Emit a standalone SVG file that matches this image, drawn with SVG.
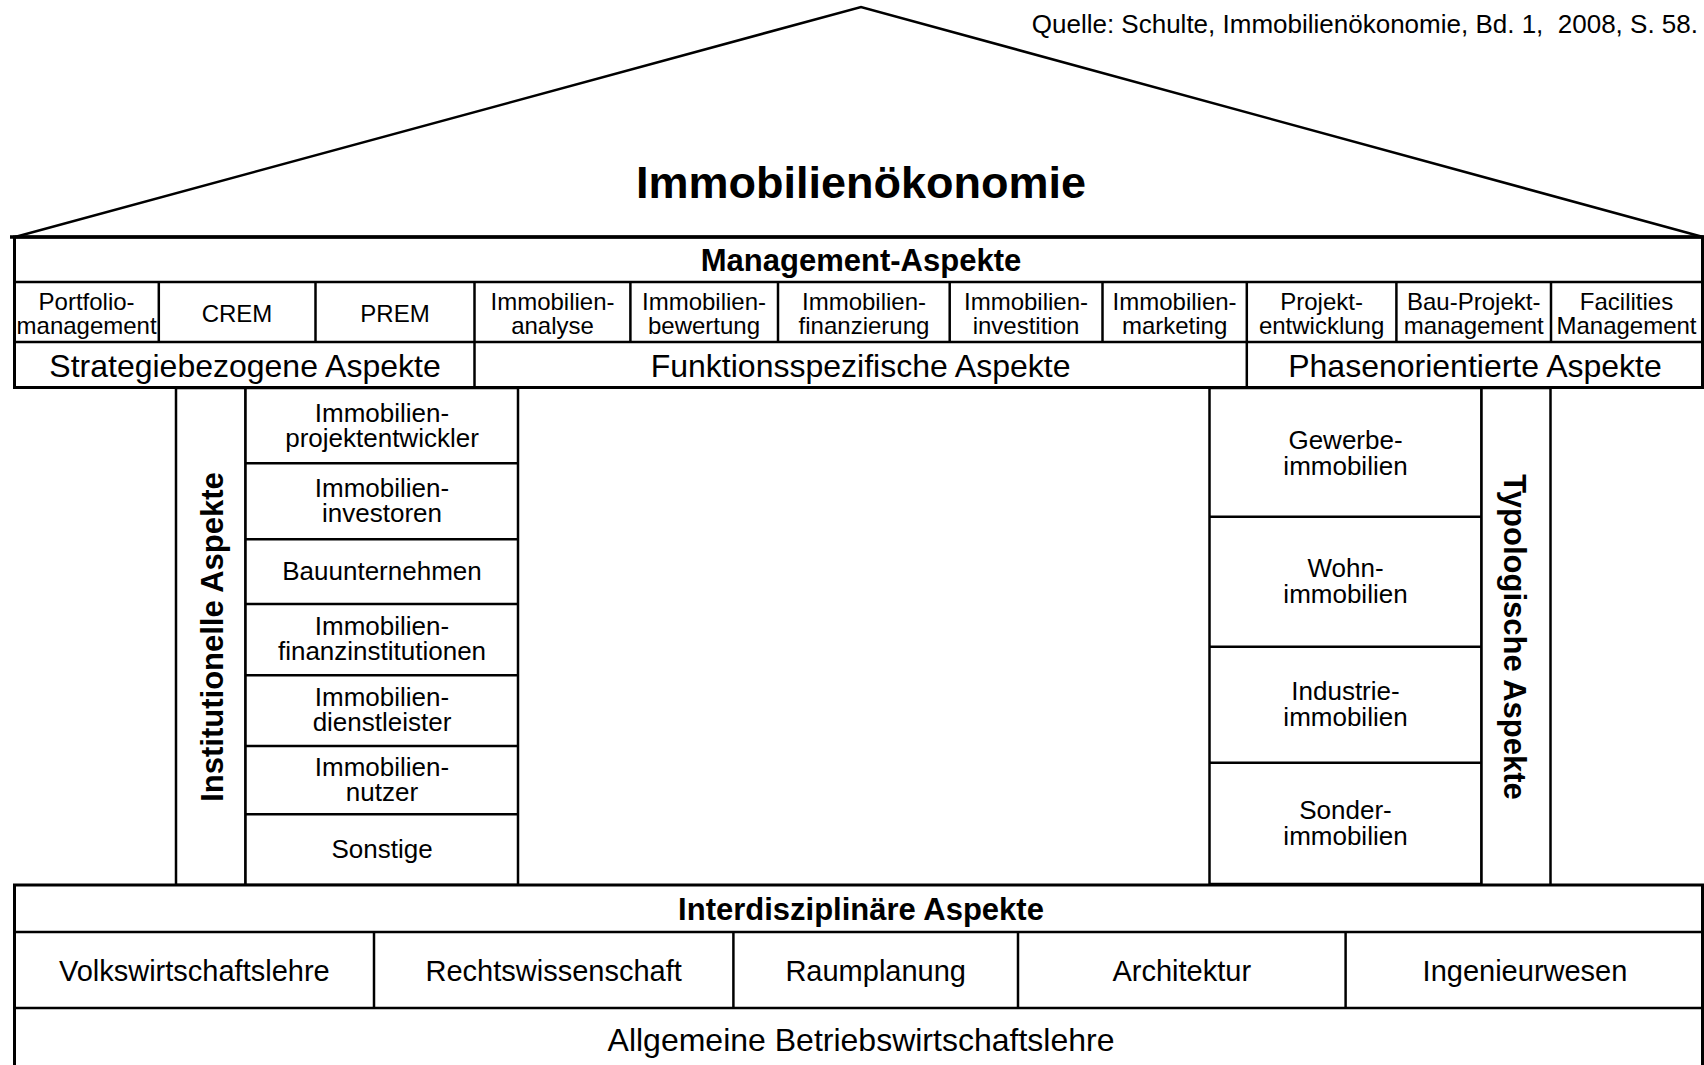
<svg xmlns="http://www.w3.org/2000/svg" width="1704" height="1065" viewBox="0 0 1704 1065">
<style>
  .ln { stroke: #000; stroke-width: 2.5; fill: none; }
  .bx { stroke: #000; stroke-width: 2.5; fill: #fff; }
  text { font-family: "Liberation Sans", Arial, Helvetica, sans-serif; fill: #000; text-anchor: middle; }
  .c24 { font-size: 24px; }
  .c26 { font-size: 26px; }
  .c29 { font-size: 29px; }
  .c32 { font-size: 32px; }
  .b31 { font-size: 31px; font-weight: bold; }
  .title { font-size: 45px; font-weight: bold; }
</style>
<rect x="0" y="0" width="1704" height="1065" fill="#fff"/>

<g id="roof">
  <polyline class="ln" points="15,237 861,7 1703,237"/>
  <text class="title" x="861" y="198">Immobilienökonomie</text>
  <text class="c26" x="1698" y="33" style="text-anchor:end">Quelle: Schulte, Immobilienökonomie, Bd. 1, &#160;2008, S. 58.</text>
</g>

<g id="management">
  <rect class="bx" x="14.5" y="237" width="1688" height="150.5" style="stroke-width:3"/>
  <line class="ln" x1="10" y1="237" x2="1704" y2="237" style="stroke-width:3.5"/>
  <line class="ln" x1="14.5" y1="282" x2="1702" y2="282"/>
  <line class="ln" x1="14.5" y1="342" x2="1702" y2="342"/>
  <text class="b31" x="861" y="271">Management-Aspekte</text>
</g>

<g id="cells">
  <line class="ln" x1="158.8" y1="282" x2="158.8" y2="342"/>
  <line class="ln" x1="315.5" y1="282" x2="315.5" y2="342"/>
  <line class="ln" x1="474.5" y1="282" x2="474.5" y2="387.5"/>
  <line class="ln" x1="630.4" y1="282" x2="630.4" y2="342"/>
  <line class="ln" x1="778" y1="282" x2="778" y2="342"/>
  <line class="ln" x1="949.7" y1="282" x2="949.7" y2="342"/>
  <line class="ln" x1="1102.5" y1="282" x2="1102.5" y2="342"/>
  <line class="ln" x1="1246.8" y1="282" x2="1246.8" y2="387.5"/>
  <line class="ln" x1="1396.4" y1="282" x2="1396.4" y2="342"/>
  <line class="ln" x1="1551" y1="282" x2="1551" y2="342"/>
  <g id="cell-portfolio"><text class="c24" x="86.6" y="309.5">Portfolio-</text><text class="c24" x="86.6" y="333.5">management</text></g>
  <g id="cell-crem"><text class="c24" x="237" y="322">CREM</text></g>
  <g id="cell-prem"><text class="c24" x="395" y="322">PREM</text></g>
  <g id="cell-analyse"><text class="c24" x="552.5" y="309.5">Immobilien-</text><text class="c24" x="552.5" y="333.5">analyse</text></g>
  <g id="cell-bewertung"><text class="c24" x="704" y="309.5">Immobilien-</text><text class="c24" x="704" y="333.5">bewertung</text></g>
  <g id="cell-finanzierung"><text class="c24" x="864" y="309.5">Immobilien-</text><text class="c24" x="864" y="333.5">finanzierung</text></g>
  <g id="cell-investition"><text class="c24" x="1026" y="309.5">Immobilien-</text><text class="c24" x="1026" y="333.5">investition</text></g>
  <g id="cell-marketing"><text class="c24" x="1174.6" y="309.5">Immobilien-</text><text class="c24" x="1174.6" y="333.5">marketing</text></g>
  <g id="cell-projekt"><text class="c24" x="1321.6" y="309.5">Projekt-</text><text class="c24" x="1321.6" y="333.5">entwicklung</text></g>
  <g id="cell-bauprojekt"><text class="c24" x="1473.7" y="309.5">Bau-Projekt-</text><text class="c24" x="1473.7" y="333.5">management</text></g>
  <g id="cell-facilities"><text class="c24" x="1626.5" y="309.5">Facilities</text><text class="c24" x="1626.5" y="333.5">Management</text></g>
</g>

<g id="aspects">
  <text class="c32" x="245" y="377">Strategiebezogene Aspekte</text>
  <text class="c32" x="860.6" y="377">Funktionsspezifische Aspekte</text>
  <text class="c32" x="1475" y="377">Phasenorientierte Aspekte</text>
</g>

<g id="institutionell">
  <rect class="bx" x="176" y="388" width="69.5" height="497"/>
  <text class="b31" transform="translate(223,637) rotate(-90)">Institutionelle Aspekte</text>
</g>

<g id="institutionen">
  <rect class="bx" x="245.5" y="388" width="272.5" height="497"/>
  <line class="ln" x1="245.5" y1="463.3" x2="518" y2="463.3"/>
  <line class="ln" x1="245.5" y1="539.3" x2="518" y2="539.3"/>
  <line class="ln" x1="245.5" y1="604" x2="518" y2="604"/>
  <line class="ln" x1="245.5" y1="675.3" x2="518" y2="675.3"/>
  <line class="ln" x1="245.5" y1="746" x2="518" y2="746"/>
  <line class="ln" x1="245.5" y1="814.3" x2="518" y2="814.3"/>
  <text class="c26" x="382" y="421.5">Immobilien-</text><text class="c26" x="382" y="446.5">projektentwickler</text>
  <text class="c26" x="382" y="496.5">Immobilien-</text><text class="c26" x="382" y="521.5">investoren</text>
  <text class="c26" x="382" y="580">Bauunternehmen</text>
  <text class="c26" x="382" y="635">Immobilien-</text><text class="c26" x="382" y="660">finanzinstitutionen</text>
  <text class="c26" x="382" y="706">Immobilien-</text><text class="c26" x="382" y="731">dienstleister</text>
  <text class="c26" x="382" y="776">Immobilien-</text><text class="c26" x="382" y="801">nutzer</text>
  <text class="c26" x="382" y="858">Sonstige</text>
</g>

<g id="typen">
  <rect class="bx" x="1209.5" y="388" width="272" height="496"/>
  <line class="ln" x1="1209.5" y1="516.7" x2="1481.5" y2="516.7"/>
  <line class="ln" x1="1209.5" y1="646.7" x2="1481.5" y2="646.7"/>
  <line class="ln" x1="1209.5" y1="762.7" x2="1481.5" y2="762.7"/>
  <text class="c26" x="1345.5" y="448.5">Gewerbe-</text><text class="c26" x="1345.5" y="474.5">immobilien</text>
  <text class="c26" x="1345.5" y="577">Wohn-</text><text class="c26" x="1345.5" y="603">immobilien</text>
  <text class="c26" x="1345.5" y="700">Industrie-</text><text class="c26" x="1345.5" y="726">immobilien</text>
  <text class="c26" x="1345.5" y="818.5">Sonder-</text><text class="c26" x="1345.5" y="844.5">immobilien</text>
</g>

<g id="typologisch">
  <rect class="bx" x="1481.5" y="388" width="69" height="498"/>
  <text class="b31" transform="translate(1504,637) rotate(90)">Typologische Aspekte</text>
</g>

<g id="interdisziplinaer">
  <rect class="bx" x="14.5" y="885" width="1688" height="190" style="stroke-width:3"/>
  <line class="ln" x1="14.5" y1="932" x2="1702" y2="932"/>
  <line class="ln" x1="14.5" y1="1008" x2="1702" y2="1008"/>
  <line class="ln" x1="374" y1="932" x2="374" y2="1008"/>
  <line class="ln" x1="733.4" y1="932" x2="733.4" y2="1008"/>
  <line class="ln" x1="1018" y1="932" x2="1018" y2="1008"/>
  <line class="ln" x1="1345.6" y1="932" x2="1345.6" y2="1008"/>
  <text class="b31" x="861" y="920">Interdisziplinäre Aspekte</text>
  <text class="c29" x="194.3" y="980.5">Volkswirtschaftslehre</text>
  <text class="c29" x="553.7" y="980.5">Rechtswissenschaft</text>
  <text class="c29" x="875.7" y="980.5">Raumplanung</text>
  <text class="c29" x="1181.8" y="980.5">Architektur</text>
  <text class="c29" x="1525" y="980.5">Ingenieurwesen</text>
  <text class="c32" x="861" y="1051">Allgemeine Betriebswirtschaftslehre</text>
</g>
</svg>
